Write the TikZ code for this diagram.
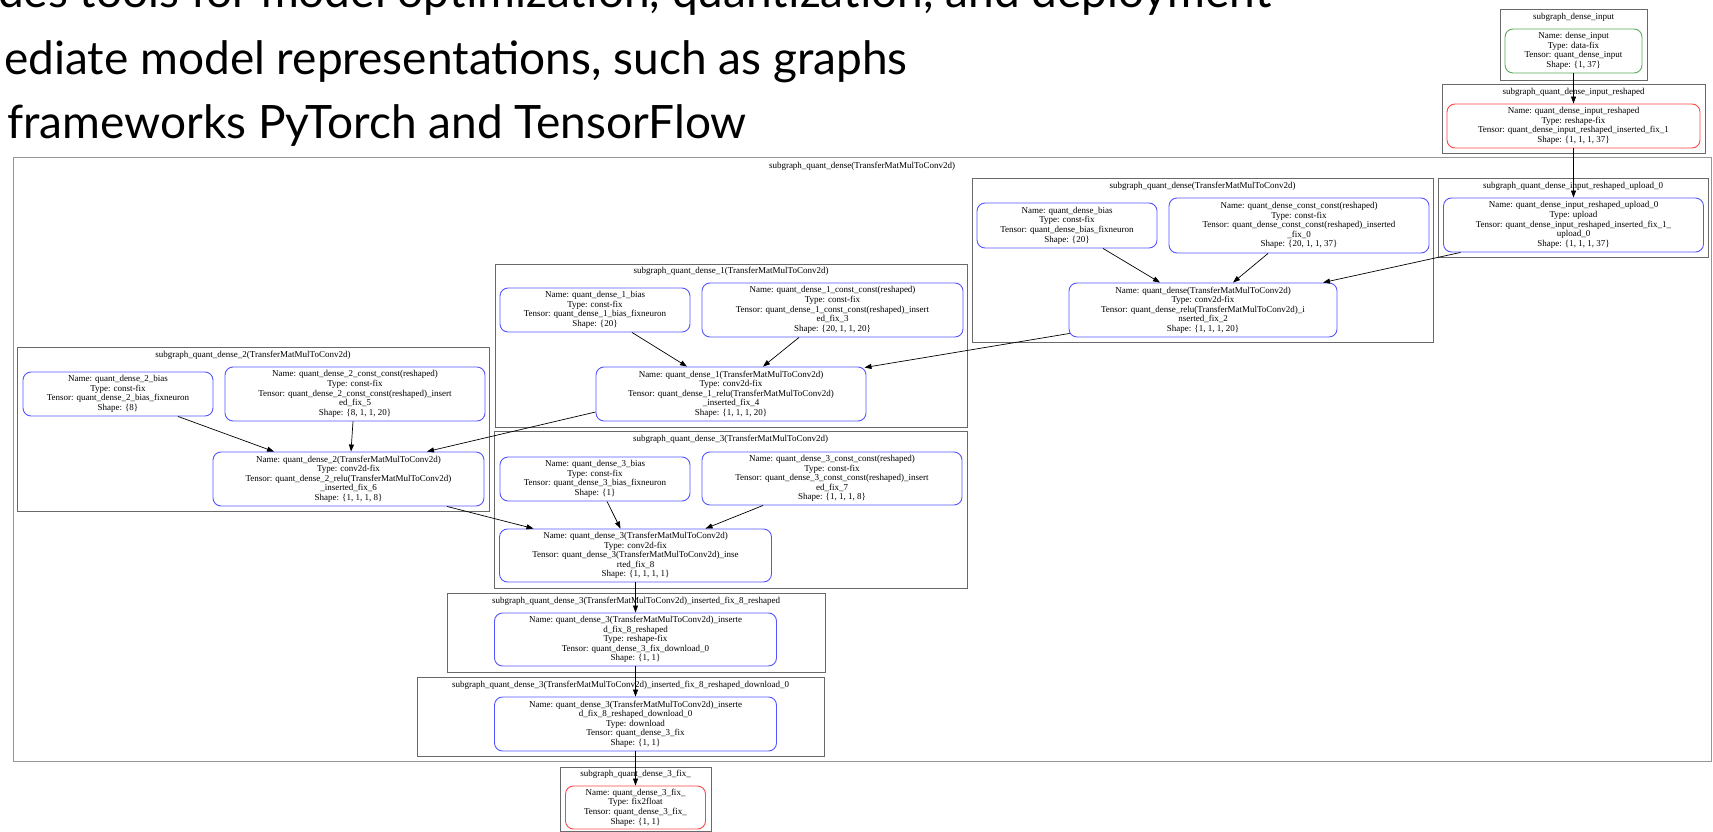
\documentclass[tikz,border=0pt]{standalone}
\usepackage{fontspec}
\setmainfont{Liberation Serif}
\newfontfamily\toptxt{Lato}
\usetikzlibrary{arrows.meta,calc}
\definecolor{gvblue}{RGB}{85,85,255}
\definecolor{gvgreen}{RGB}{90,170,90}
\definecolor{gvred}{RGB}{255,70,70}
\definecolor{sgline}{RGB}{105,105,105}
\definecolor{outerline}{RGB}{150,150,150}
\begin{document}
\begin{tikzpicture}[x=1pt,y=-1pt,
  gn/.style={draw, rounded corners=8pt, line width=0.9pt, inner sep=0pt, align=center, font=\fontsize{9}{9.6}\selectfont},
  sg/.style={draw=sgline, line width=0.9pt, inner sep=0pt},
  sgt/.style={font=\fontsize{9}{9.6}\selectfont, inner sep=0pt},
  conn/.style={draw=black, line width=0.7pt, -{Triangle[length=7pt,width=5pt]}},
  toptext/.style={anchor=base west, inner sep=0pt, font=\toptxt\fontsize{46}{46}\selectfont}
]
\useasboundingbox (0,0) rectangle (1713,832);
\fill[white] (0,0) rectangle (1713,832);

% top text
\node[toptext] (t1) at (-2,8) {des tools for model optimization, quantization, and deployment};
\node[toptext] (t2) at (4,75) {ediate model representations, such as graphs};
\node[toptext] (t3) at (7,139) {frameworks PyTorch and TensorFlow};

% subgraph boxes
\node[sg, draw=outerline, minimum width=1698pt, minimum height=604pt] (sgO) at (862,459) {};
\node[sgt] (sgOt) at (862,166) {subgraph\_quant\_dense(TransferMatMulToConv2d)};
\node[sg, minimum width=147pt, minimum height=71pt] (sg1) at (1573.5,44.5) {};
\node[sgt] (sg1t) at (1573.5,17) {subgraph\_dense\_input};
\node[sg, minimum width=263pt, minimum height=69pt] (sg2) at (1573.5,118.5) {};
\node[sgt] (sg2t) at (1573.5,92) {subgraph\_quant\_dense\_input\_reshaped};
\node[sg, minimum width=270pt, minimum height=79pt] (sg3) at (1573,217.5) {};
\node[sgt] (sg3t) at (1573,186) {subgraph\_quant\_dense\_input\_reshaped\_upload\_0};
\node[sg, minimum width=461pt, minimum height=164pt] (sg4) at (1202.5,260) {};
\node[sgt] (sg4t) at (1202.5,186) {subgraph\_quant\_dense(TransferMatMulToConv2d)};
\node[sg, minimum width=472pt, minimum height=163pt] (sg5) at (731,345.5) {};
\node[sgt] (sg5t) at (731,271) {subgraph\_quant\_dense\_1(TransferMatMulToConv2d)};
\node[sg, minimum width=472pt, minimum height=164pt] (sg6) at (253,429) {};
\node[sgt] (sg6t) at (253,355) {subgraph\_quant\_dense\_2(TransferMatMulToConv2d)};
\node[sg, minimum width=473pt, minimum height=157pt] (sg7) at (730.5,509.5) {};
\node[sgt] (sg7t) at (730.5,439) {subgraph\_quant\_dense\_3(TransferMatMulToConv2d)};
\node[sg, minimum width=378pt, minimum height=79pt] (sg8) at (636,632.5) {};
\node[sgt] (sg8t) at (636,601) {subgraph\_quant\_dense\_3(TransferMatMulToConv2d)\_inserted\_fix\_8\_reshaped};
\node[sg, minimum width=407pt, minimum height=79pt] (sg9) at (620.5,716.5) {};
\node[sgt] (sg9t) at (620.5,685) {subgraph\_quant\_dense\_3(TransferMatMulToConv2d)\_inserted\_fix\_8\_reshaped\_download\_0};
\node[sg, minimum width=151pt, minimum height=64pt] (sg10) at (635.5,799) {};
\node[sgt] (sg10t) at (635.5,774) {subgraph\_quant\_dense\_3\_fix\_};

% nodes
\node[gn, draw=gvgreen, minimum width=137pt, minimum height=44pt] (din) at (1573.5,51)
 {Name: dense\_input\\Type: data-fix\\Tensor: quant\_dense\_input\\Shape: \{1, 37\}};
\node[gn, draw=gvred, minimum width=253pt, minimum height=44pt] (dres) at (1573.5,126)
 {Name: quant\_dense\_input\_reshaped\\Type: reshape-fix\\Tensor: quant\_dense\_input\_reshaped\_inserted\_fix\_1\\Shape: \{1, 1, 1, 37\}};
\node[gn, draw=gvblue, minimum width=260pt, minimum height=54pt] (up) at (1573.5,225)
 {Name: quant\_dense\_input\_reshaped\_upload\_0\\Type: upload\\Tensor: quant\_dense\_input\_reshaped\_inserted\_fix\_1\_\\upload\_0\\Shape: \{1, 1, 1, 37\}};

\node[gn, draw=gvblue, minimum width=180pt, minimum height=45pt] (b0) at (1067,225.5)
 {Name: quant\_dense\_bias\\Type: const-fix\\Tensor: quant\_dense\_bias\_fixneuron\\Shape: \{20\}};
\node[gn, draw=gvblue, minimum width=260pt, minimum height=55pt] (c0) at (1299,225.5)
 {Name: quant\_dense\_const\_const(reshaped)\\Type: const-fix\\Tensor: quant\_dense\_const\_const(reshaped)\_inserted\\\_fix\_0\\Shape: \{20, 1, 1, 37\}};
\node[gn, draw=gvblue, minimum width=268pt, minimum height=54pt] (v0) at (1203,310)
 {Name: quant\_dense(TransferMatMulToConv2d)\\Type: conv2d-fix\\Tensor: quant\_dense\_relu(TransferMatMulToConv2d)\_i\\nserted\_fix\_2\\Shape: \{1, 1, 1, 20\}};

\node[gn, draw=gvblue, minimum width=190pt, minimum height=44pt] (b1) at (595,310)
 {Name: quant\_dense\_1\_bias\\Type: const-fix\\Tensor: quant\_dense\_1\_bias\_fixneuron\\Shape: \{20\}};
\node[gn, draw=gvblue, minimum width=261pt, minimum height=54pt] (c1) at (832.5,310)
 {Name: quant\_dense\_1\_const\_const(reshaped)\\Type: const-fix\\Tensor: quant\_dense\_1\_const\_const(reshaped)\_insert\\ed\_fix\_3\\Shape: \{20, 1, 1, 20\}};
\node[gn, draw=gvblue, minimum width=270pt, minimum height=54pt] (v1) at (731,394)
 {Name: quant\_dense\_1(TransferMatMulToConv2d)\\Type: conv2d-fix\\Tensor: quant\_dense\_1\_relu(TransferMatMulToConv2d)\\\_inserted\_fix\_4\\Shape: \{1, 1, 1, 20\}};

\node[gn, draw=gvblue, minimum width=190pt, minimum height=44pt] (b2) at (118,394)
 {Name: quant\_dense\_2\_bias\\Type: const-fix\\Tensor: quant\_dense\_2\_bias\_fixneuron\\Shape: \{8\}};
\node[gn, draw=gvblue, minimum width=260pt, minimum height=54pt] (c2) at (355,394)
 {Name: quant\_dense\_2\_const\_const(reshaped)\\Type: const-fix\\Tensor: quant\_dense\_2\_const\_const(reshaped)\_insert\\ed\_fix\_5\\Shape: \{8, 1, 1, 20\}};
\node[gn, draw=gvblue, minimum width=271pt, minimum height=54pt] (v2) at (348.5,479)
 {Name: quant\_dense\_2(TransferMatMulToConv2d)\\Type: conv2d-fix\\Tensor: quant\_dense\_2\_relu(TransferMatMulToConv2d)\\\_inserted\_fix\_6\\Shape: \{1, 1, 1, 8\}};

\node[gn, draw=gvblue, minimum width=190pt, minimum height=44pt] (b3) at (595,479)
 {Name: quant\_dense\_3\_bias\\Type: const-fix\\Tensor: quant\_dense\_3\_bias\_fixneuron\\Shape: \{1\}};
\node[gn, draw=gvblue, minimum width=260pt, minimum height=53pt] (c3) at (832,478.5)
 {Name: quant\_dense\_3\_const\_const(reshaped)\\Type: const-fix\\Tensor: quant\_dense\_3\_const\_const(reshaped)\_insert\\ed\_fix\_7\\Shape: \{1, 1, 1, 8\}};
\node[gn, draw=gvblue, minimum width=272pt, minimum height=53pt] (v3) at (635.5,555.5)
 {Name: quant\_dense\_3(TransferMatMulToConv2d)\\Type: conv2d-fix\\Tensor: quant\_dense\_3(TransferMatMulToConv2d)\_inse\\rted\_fix\_8\\Shape: \{1, 1, 1, 1\}};

\node[gn, draw=gvblue, minimum width=282pt, minimum height=53pt] (r8) at (635.5,639.5)
 {Name: quant\_dense\_3(TransferMatMulToConv2d)\_inserte\\d\_fix\_8\_reshaped\\Type: reshape-fix\\Tensor: quant\_dense\_3\_fix\_download\_0\\Shape: \{1, 1\}};
\node[gn, draw=gvblue, minimum width=282pt, minimum height=54pt] (d9) at (635.5,724)
 {Name: quant\_dense\_3(TransferMatMulToConv2d)\_inserte\\d\_fix\_8\_reshaped\_download\_0\\Type: download\\Tensor: quant\_dense\_3\_fix\\Shape: \{1, 1\}};
\node[gn, draw=gvred, minimum width=140pt, minimum height=43pt] (f10) at (635.5,807.5)
 {Name: quant\_dense\_3\_fix\_\\Type: fix2float\\Tensor: quant\_dense\_3\_fix\_\\Shape: \{1, 1\}};

% connectors
\draw[conn] (din.south) -- (dres.north);
\draw[conn] (dres.south) -- (up.north);
\draw[conn] ($(up.south)+(-113,0)$) -- ($(v0.north)+(120,0)$);
\draw[conn] ($(b0.south)+(36,0)$) -- ($(v0.north)+(-43,0)$);
\draw[conn] ($(c0.south)+(-31,0)$) -- ($(v0.north)+(30,0)$);
\draw[conn] ($(v0.south west)+(1,-4)$) -- ($(v1.north east)+(-2,1)$);
\draw[conn] ($(b1.south)+(37,0)$) -- ($(v1.north)+(-44,0)$);
\draw[conn] ($(c1.south)+(-33.5,0)$) -- ($(v1.north)+(32,0)$);
\draw[conn] ($(v1.west)+(0,18)$) -- ($(v2.north)+(78.5,0)$);
\draw[conn] ($(b2.south)+(60,0)$) -- ($(v2.north)+(-74.5,0)$);
\draw[conn] ($(c2.south)+(-2,0)$) -- ($(v2.north)+(2.5,0)$);
\draw[conn] ($(v2.south)+(98.5,0)$) -- ($(v3.north)+(-102,0)$);
\draw[conn] ($(b3.south)+(12,0)$) -- ($(v3.north)+(-15,0)$);
\draw[conn] ($(c3.south)+(-69,0)$) -- ($(v3.north)+(70,0)$);
\draw[conn] (v3.south) -- (r8.north);
\draw[conn] (r8.south) -- (d9.north);
\draw[conn] (d9.south) -- (f10.north);
\end{tikzpicture}
\end{document}
